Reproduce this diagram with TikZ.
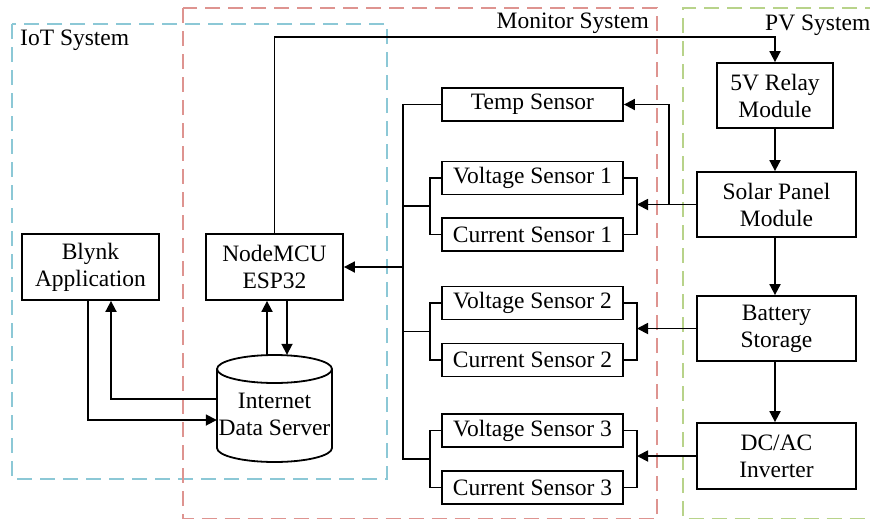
\documentclass[tikz,border=0pt]{standalone}
\usepackage{fontspec}
\setmainfont{Liberation Serif}
\usetikzlibrary{arrows.meta}
\definecolor{iotc}{HTML}{8CC8D6}
\definecolor{monc}{HTML}{DE9490}
\definecolor{pvc}{HTML}{B8D38A}
\tikzset{
  txt/.style={font=\fontsize{23.5}{27}\selectfont},
  box/.style={txt, draw, line width=1.8pt, inner sep=0pt, align=center},
  sensor/.style={box, minimum width=181pt, minimum height=33pt},
  bigbox/.style={box, minimum width=159pt, minimum height=65pt},
  midbox/.style={box, minimum width=137pt, minimum height=66pt},
  wire/.style={line width=1.8pt},
  arr/.style={wire, -{Triangle[length=11pt,width=11pt]}},
  grp/.style={line width=1.4pt, dash pattern=on 15pt off 8pt},
  grplabel/.style={txt, inner sep=0pt}
}
\begin{document}
\begin{tikzpicture}[x=1pt,y=-1pt]
\useasboundingbox (0,0) rectangle (870,520);
% group frames
\draw[grp, iotc] (12,24) rectangle (387,479);
\draw[grp, monc] (183,8) rectangle (657,518.5);
\draw[grp, pvc] (880,8) -- (683,8) -- (683,518.5) -- (880,518.5);
\node[grplabel, anchor=west] (iotlbl) at (20,40) {IoT System};
\node[grplabel, anchor=east] (monlbl) at (649,23) {Monitor System};
\node[grplabel, anchor=west] (pvlbl) at (765,25) {PV System};

% IoT nodes
\node[midbox] (blynk) at (90.5,267) {Blynk\\Application};
\node[midbox] (mcu) at (274.5,267) {NodeMCU\\ESP32};
% server cylinder
\node[inner sep=0pt, minimum width=115pt, minimum height=107pt] (srv) at (274.5,408.5) {};
\draw[wire, fill=white] (217,369) -- (217,448) arc[start angle=180, end angle=0, x radius=57.5, y radius=14] -- (332,369);
\draw[wire] (274.5,369) ellipse [x radius=57.5, y radius=14];
\node[txt, align=center, inner sep=0pt] (srvtxt) at (274.5,414) {Internet\\Data Server};

% sensors
\node[sensor] (temp) at (532.5,104.5) {Temp Sensor};
\node[sensor] (v1) at (532.5,178) {Voltage Sensor 1};
\node[sensor] (c1) at (532.5,234.5) {Current Sensor 1};
\node[sensor] (v2) at (532.5,303) {Voltage Sensor 2};
\node[sensor] (c2) at (532.5,360) {Current Sensor 2};
\node[sensor] (v3) at (532.5,430.5) {Voltage Sensor 3};
\node[sensor] (c3) at (532.5,487.5) {Current Sensor 3};

% PV nodes
\node[box, minimum width=116pt, minimum height=65pt] (relay) at (775,95.5) {5V Relay\\Module};
\node[bigbox] (solar) at (776.5,204.5) {Solar Panel\\Module};
\node[bigbox] (batt) at (776.5,328.5) {Battery\\Storage};
\node[bigbox, minimum height=66pt] (inv) at (776.5,456) {DC/AC\\Inverter};

% helper coordinates
\coordinate (topline) at (500,37);
\coordinate (rbx) at (637,0);
\coordinate (tbx) at (669,0);
\coordinate (lx) at (403,0);
\coordinate (lbx) at (430,0);
\coordinate (m1) at (430,206.25);
\coordinate (m2) at (430,331.5);
\coordinate (m3) at (430,459);

% PV chain
\draw[arr] (mcu.north) -- (mcu.north |- topline) -| (relay.north);
\draw[arr] (relay.south) -- (relay.south |- solar.north);
\draw[arr] (solar.south -| relay.south) -- (batt.north -| relay.south);
\draw[arr] (batt.south -| relay.south) -- (inv.north -| relay.south);

% right brackets
\draw[wire] (v1.east) -| (rbx |- c1.east) -- (c1.east);
\draw[wire] (v2.east) -| (rbx |- c2.east) -- (c2.east);
\draw[wire] (v3.east) -| (rbx |- c3.east) -- (c3.east);
\draw[arr] (solar.west) -- (rbx |- solar.west);
\draw[arr] (tbx |- solar.west) |- (temp.east);
\draw[arr] (batt.west) -- (rbx |- batt.west);
\draw[arr] (inv.west) -- (rbx |- inv.west);

% left brackets
\draw[wire] (v1.west) -| (lbx |- c1.west) -- (c1.west);
\draw[wire] (v2.west) -| (lbx |- c2.west) -- (c2.west);
\draw[wire] (v3.west) -| (lbx |- c3.west) -- (c3.west);
\draw[wire] (temp.west) -| (lx |- m3) -- (m3);
\draw[wire] (lx |- m1) -- (m1);
\draw[wire] (lx |- m2) -- (m2);
\draw[arr] (lx |- mcu.east) -- (mcu.east);

% MCU <-> server
\draw[arr] ([xshift=-7.5pt]srv.north) -- ([xshift=-7.5pt]srv.north |- mcu.south);
\draw[arr] ([xshift=12.5pt]mcu.south) -- ([xshift=12.5pt]mcu.south |- srv.north);

% server <-> Blynk
\draw[arr] ([yshift=9.5pt]srv.west) -| ([xshift=20.5pt]blynk.south);
\draw[arr] ([xshift=-2.5pt]blynk.south) |- ([yshift=-11.5pt]srv.west);
\end{tikzpicture}
\end{document}
